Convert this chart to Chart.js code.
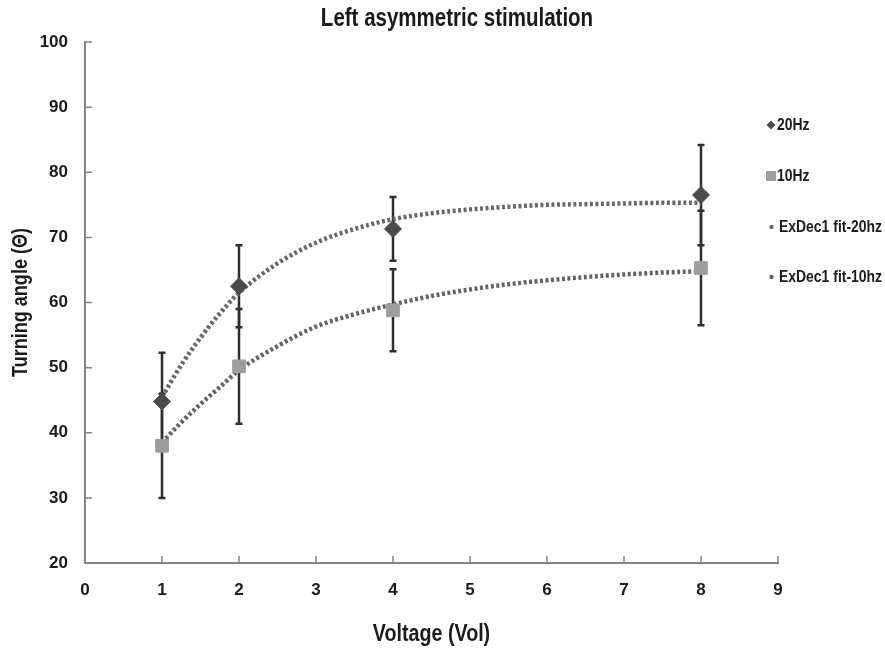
<!DOCTYPE html>
<html>
<head>
<meta charset="utf-8">
<title>Left asymmetric stimulation</title>
<script src="https://cdn.jsdelivr.net/npm/chart.js@4.4.1/dist/chart.umd.min.js"></script>
<style>
  html, body { margin: 0; padding: 0; background: #fff; }
  #wrap { width: 885px; height: 648px; }
</style>
</head>
<body>
<div id="wrap"><canvas id="angleChart" width="885" height="648"></canvas></div>
<script>
// ==== Données
const voltage = [1, 2, 4, 8];
const angle20 = [44.8, 62.5, 71.3, 76.5];
const err20 = [7.5, 6.3, 4.9, 7.7];
const angle10 = [38.0, 50.2, 58.8, 65.3];
const err10 = [8.0, 8.8, 6.3, 8.8];

// courbes d'ajustement ExpDec1, relevées point par point
const fitX = [1, 1.25, 1.5, 1.75, 2, 2.5, 3, 3.5, 4, 4.5, 5, 5.5, 6, 6.5, 7, 7.5, 8];
const fit20 = [45.5, 50.4, 54.6, 58.3, 61.5, 66.0, 69.2, 71.3, 72.8, 73.7, 74.3, 74.7, 75.0, 75.1, 75.2, 75.3, 75.3];
const fit10 = [38.5, 41.6, 44.4, 47.0, 49.6, 53.3, 56.3, 58.2, 59.7, 61.0, 62.0, 62.8, 63.4, 63.9, 64.3, 64.6, 64.8];

const seriesNames = ["20Hz", "10Hz", "ExDec1 fit-20hz", "ExDec1 fit-10hz"];
const chartTitle = "Left asymmetric stimulation";
const xTitle = "Voltage (Vol)";
const yTitle = "Turning angle (\u0398)";

const FONT = "'Liberation Sans', Arial, sans-serif";
const AXIS_COLOR = "#858585";
const TEXT_COLOR = "#1a1a1a";

// ==== Helpers
function pts(xs, ys) {
  return xs.map((x, i) => ({ x: x, y: ys[i] }));
}

// texte gras un peu resserré (style Arial Narrow)
function narrowText(ctx, text, x, y, size, align, angle) {
  ctx.save();
  ctx.translate(x, y);
  if (angle) ctx.rotate(angle);
  ctx.scale(0.82, 1);
  ctx.font = "bold " + size + "px " + FONT;
  ctx.textAlign = align;
  ctx.textBaseline = "middle";
  ctx.fillStyle = TEXT_COLOR;
  ctx.fillText(text, 0, 0);
  ctx.restore();
}

// barres d'erreur + graduations intérieures + textes
const errorBars = {
  id: "errorBars",
  beforeDatasetsDraw(chart) {
    const { ctx, scales: { x, y } } = chart;
    ctx.save();
    ctx.strokeStyle = "#2e2e2e";
    ctx.lineWidth = 2.5;
    [[angle20, err20], [angle10, err10]].forEach(([vals, errs]) => {
      vals.forEach((v, i) => {
        const px = x.getPixelForValue(voltage[i]);
        const top = y.getPixelForValue(v + errs[i]);
        const bot = y.getPixelForValue(v - errs[i]);
        ctx.beginPath();
        ctx.moveTo(px, top); ctx.lineTo(px, bot);
        ctx.moveTo(px - 3.5, top); ctx.lineTo(px + 3.5, top);
        ctx.moveTo(px - 3.5, bot); ctx.lineTo(px + 3.5, bot);
        ctx.stroke();
      });
    });
    ctx.restore();
  },
  afterDraw(chart) {
    const { ctx, chartArea: a, scales: { x, y } } = chart;
    ctx.save();
    ctx.strokeStyle = AXIS_COLOR;
    ctx.lineWidth = 1.5;
    ctx.beginPath();
    for (let v = 30; v <= 100; v += 10) {
      const py = y.getPixelForValue(v);
      ctx.moveTo(a.left, py); ctx.lineTo(a.left + 7, py);
    }
    for (let v = 1; v <= 9; v++) {
      const px = x.getPixelForValue(v);
      ctx.moveTo(px, a.bottom); ctx.lineTo(px, a.bottom - 7);
    }
    ctx.stroke();
    ctx.restore();

    // titres
    narrowText(ctx, chartTitle, 457, 19, 25, "center");
    narrowText(ctx, xTitle, (a.left + a.right) / 2, 634, 24, "center");
    narrowText(ctx, yTitle, 21, (a.top + a.bottom) / 2, 22, "center", -Math.PI / 2);

    // légende à droite
    const rows = [125, 176, 227, 277];
    chart.data.datasets.forEach((ds, i) => {
      const cy = rows[i];
      ctx.save();
      ctx.fillStyle = ds.legendColor;
      ctx.beginPath();
      if (i === 0) {
        ctx.moveTo(771, cy - 4.5); ctx.lineTo(775.5, cy); ctx.lineTo(771, cy + 4.5); ctx.lineTo(766.5, cy);
        ctx.closePath();
      } else if (i === 1) {
        ctx.rect(766, cy - 5, 10, 10);
      } else {
        ctx.arc(771.5, cy, 2.2, 0, Math.PI * 2);
      }
      ctx.fill();
      ctx.restore();
      narrowText(ctx, ds.label, i < 2 ? 777 : 779, cy, 17, "left");
    });
  },
};

const ctx = document.getElementById("angleChart").getContext("2d");
const angleChart = new Chart(ctx, {
  type: "scatter",
  data: {
    datasets: [
      {
        label: seriesNames[0],
        data: pts(voltage, angle20),
        pointStyle: "rectRot",
        pointRadius: 8.5,
        backgroundColor: "#4b4b4b",
        borderColor: "#4b4b4b",
        legendColor: "#4b4b4b",
        showLine: false,
      },
      {
        label: seriesNames[1],
        data: pts(voltage, angle10),
        pointStyle: "rect",
        pointRadius: 9,
        backgroundColor: "#9d9d9d",
        borderColor: "#9d9d9d",
        legendColor: "#9d9d9d",
        showLine: false,
      },
      {
        label: seriesNames[2],
        data: pts(fitX, fit20),
        showLine: true,
        pointRadius: 0,
        borderColor: "#686868",
        legendColor: "#686868",
        borderWidth: 4.5,
        borderDash: [3, 2.5],
        cubicInterpolationMode: "monotone",
      },
      {
        label: seriesNames[3],
        data: pts(fitX, fit10),
        showLine: true,
        pointRadius: 0,
        borderColor: "#646464",
        legendColor: "#646464",
        borderWidth: 4.5,
        borderDash: [3, 2.5],
        cubicInterpolationMode: "monotone",
      },
    ],
  },
  options: {
    responsive: false,
    animation: false,
    layout: { padding: { top: 42, right: 107, bottom: 0, left: 0 } },
    plugins: { legend: { display: false }, title: { display: false }, tooltip: { enabled: false } },
    scales: {
      x: {
        type: "linear",
        min: 0,
        max: 9,
        afterFit: (s) => { s.height = 85; },
        border: { color: AXIS_COLOR, width: 2 },
        grid: { display: false, drawTicks: false },
        ticks: { stepSize: 1, padding: 17, color: TEXT_COLOR, font: { family: FONT, size: 17, weight: "bold" } },
      },
      y: {
        min: 20,
        max: 100,
        afterFit: (s) => { s.width = 85; },
        border: { color: AXIS_COLOR, width: 2 },
        grid: { display: false, drawTicks: false },
        ticks: { stepSize: 10, padding: 17, color: TEXT_COLOR, font: { family: FONT, size: 17, weight: "bold" } },
      },
    },
  },
  plugins: [errorBars],
});
</script>
</body>
</html>
